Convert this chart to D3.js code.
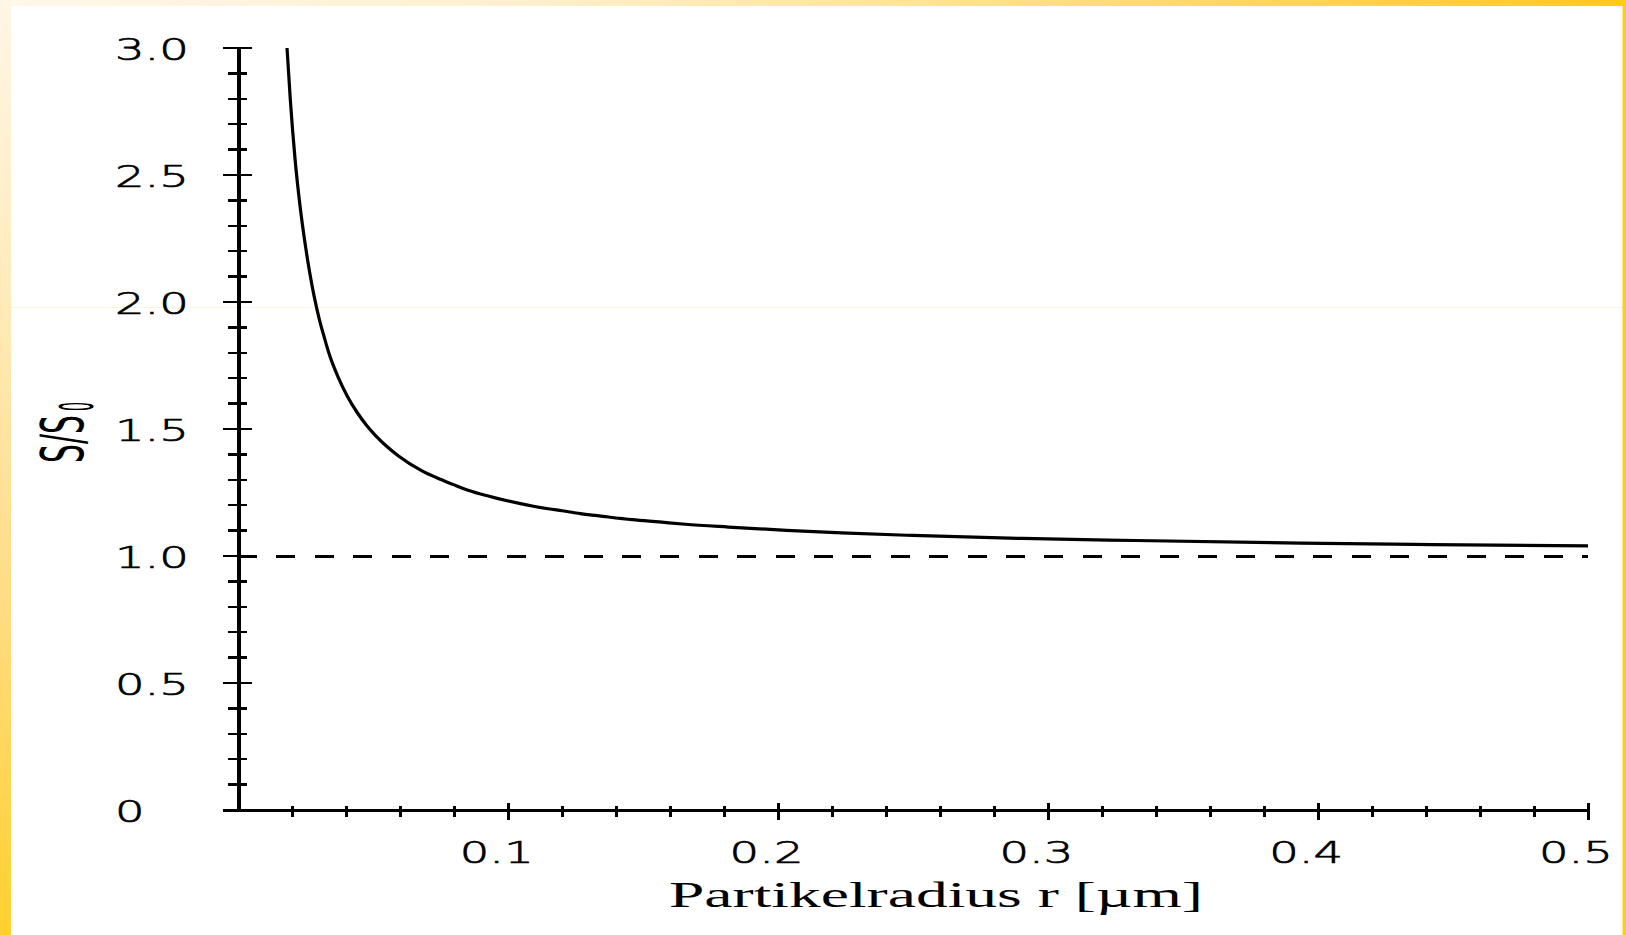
<!DOCTYPE html>
<html>
<head>
<meta charset="utf-8">
<script src="https://cdn.jsdelivr.net/npm/d3@7"></script>
<style>
html,body{margin:0;padding:0;background:#fff;overflow:hidden}
svg{display:block}
</style>
</head>
<body>
<svg id="chart" width="1626" height="935"></svg>
<script>
// ---- data ----
const radius = [0.0178,0.0190,0.0208,0.0226,0.0245,0.0263,0.0278,0.0297,0.0315,0.0334,0.0367,0.0401,0.0438,0.0471,0.0508,0.0545,0.0590,0.0675,0.0746,0.0797,0.0849,0.0924,0.0957,0.1039,0.1091,0.1146,0.1198,0.1265,0.1350,0.1458,0.1558,0.1654,0.1814,0.2029,0.2233,0.2496,0.2904,0.3323,0.3935,0.4421,0.5000];
const ratio  = [3.000,2.800,2.560,2.380,2.230,2.110,2.025,1.935,1.865,1.796,1.705,1.630,1.565,1.517,1.472,1.434,1.395,1.337,1.302,1.280,1.259,1.236,1.227,1.207,1.196,1.186,1.178,1.167,1.156,1.143,1.134,1.125,1.114,1.101,1.091,1.081,1.069,1.061,1.051,1.045,1.040];
const referenceLevel = [1.0];
const xTicks = [0.1,0.2,0.3,0.4,0.5];
const xTickLabels = ["0.1","0.2","0.3","0.4","0.5"];
const yTicks = [0,0.5,1.0,1.5,2.0,2.5,3.0];
const yTickLabels = ["0","0.5","1.0","1.5","2.0","2.5","3.0"];
const xTitle = "Partikelradius r [µm]";
const yTitleMain = "S/S";
const yTitleSub = "0";

// ---- layout ----
const svg = d3.select("#chart");
const W = 1626, H = 935;
const x = d3.scaleLinear().domain([0,0.5]).range([239,1588]);
const y = d3.scaleLinear().domain([0,3]).range([810,48]);

// background & slide frame
const defs = svg.append("defs");
const gTop = defs.append("linearGradient").attr("id","gTop").attr("x1","0").attr("x2","1").attr("y1","0").attr("y2","0");
[[0,"#FFF7EA"],[0.3,"#FFF0D2"],[0.55,"#FFE49C"],[0.74,"#FFD866"],[1,"#FFCA1A"]].forEach(s=>gTop.append("stop").attr("offset",s[0]).attr("stop-color",s[1]));
const gLeft = defs.append("linearGradient").attr("id","gLeft").attr("x1","0").attr("x2","0").attr("y1","0").attr("y2","1");
[[0,"#FFF6E6"],[0.33,"#FFEAB8"],[0.65,"#FFDC82"],[1,"#FFD02C"]].forEach(s=>gLeft.append("stop").attr("offset",s[0]).attr("stop-color",s[1]));

svg.append("rect").attr("width",W).attr("height",H).attr("fill","#FFFFFF");
svg.append("line").attr("x1",11).attr("x2",W).attr("y1",307.5).attr("y2",307.5)
  .attr("stroke","#FFF3DA").attr("stroke-width",1);

const plot = svg.append("g").attr("shape-rendering","crispEdges");

// y axis
plot.append("line").attr("x1",239).attr("x2",239).attr("y1",y(3)-1.5).attr("y2",y(0)+1.5)
  .attr("stroke","#000").attr("stroke-width",4);
const yMinor = d3.range(0,30).map(i=>i/10).filter(v=>Math.abs(v*2-Math.round(v*2))>1e-6);
plot.selectAll(".ymin").data(yMinor).join("line")
  .attr("x1",228).attr("x2",247).attr("y1",d=>y(d)).attr("y2",d=>y(d))
  .attr("stroke","#000").attr("stroke-width",2.5);
plot.selectAll(".ymaj").data(yTicks.filter(v=>v>0)).join("line")
  .attr("x1",223).attr("x2",252).attr("y1",d=>y(d)).attr("y2",d=>y(d))
  .attr("stroke","#000").attr("stroke-width",2.5);

// x axis
plot.append("line").attr("x1",223).attr("x2",x(0.5)+1.5).attr("y1",y(0)+0.5).attr("y2",y(0)+0.5)
  .attr("stroke","#000").attr("stroke-width",3);
const xMinor = d3.range(1,25).map(i=>i*0.02).filter(v=>Math.abs(v*10-Math.round(v*10))>1e-6);
plot.selectAll(".xmin").data(xMinor).join("line")
  .attr("x1",d=>x(d)).attr("x2",d=>x(d)).attr("y1",806).attr("y2",817)
  .attr("stroke","#000").attr("stroke-width",3);
plot.selectAll(".xmaj").data(xTicks).join("line")
  .attr("x1",d=>x(d)).attr("x2",d=>x(d)).attr("y1",803).attr("y2",820)
  .attr("stroke","#000").attr("stroke-width",3);

// dashed reference line S/S0 = 1
plot.selectAll(".ref").data(referenceLevel).join("line")
  .attr("x1",238).attr("x2",x(0.5)).attr("y1",d=>y(d)).attr("y2",d=>y(d))
  .attr("stroke","#000").attr("stroke-width",3).attr("stroke-dasharray","19,19.4");

// curve
const pts = radius.map((r,i)=>[r,ratio[i]]);
svg.append("path").datum(pts)
  .attr("d",d3.line().x(d=>x(d[0])).y(d=>y(d[1])).curve(d3.curveMonotoneX))
  .attr("fill","none").attr("stroke","#000").attr("stroke-width",3.2);

// tick labels (wide, thin digits)
const labelFont = "'DejaVu Sans', sans-serif";
const SX = 1.5;
const yl = svg.selectAll(".ylab").data(yTicks).join("text")
  .attr("x",0).attr("y",0)
  .attr("transform",d=>`translate(115,${y(d)+12}) scale(${SX},1)`)
  .attr("font-family",labelFont).attr("font-weight",200).attr("font-size",31)
  .attr("fill","#000").attr("stroke","#000").attr("stroke-width",0.7)
  .text((d,i)=>yTickLabels[i]);
const xl = svg.selectAll(".xlab").data(xTicks).join("text")
  .attr("x",0).attr("y",0)
  .attr("transform",d=>`translate(${x(d)-49},863) scale(${SX},1)`)
  .attr("font-family",labelFont).attr("font-weight",200).attr("font-size",31)
  .attr("fill","#000").attr("stroke","#000").attr("stroke-width",0.7)
  .text((d,i)=>xTickLabels[i]);

// axis titles
svg.append("text").attr("x",669).attr("y",907)
  .attr("font-family","'Liberation Serif', 'Times New Roman', serif").attr("font-size",35)
  .attr("textLength",534).attr("lengthAdjust","spacingAndGlyphs").attr("fill","#000")
  .text(xTitle);

const yt = svg.append("g").attr("transform","translate(83,463) rotate(-90)");
yt.append("text").attr("x",0).attr("y",0)
  .attr("font-family",labelFont).attr("font-size",58)
  .attr("textLength",48).attr("lengthAdjust","spacingAndGlyphs").attr("fill","#000")
  .text(yTitleMain);
yt.append("text").attr("x",52).attr("y",10)
  .attr("font-family",labelFont).attr("font-size",46)
  .attr("textLength",9).attr("lengthAdjust","spacingAndGlyphs").attr("fill","#000")
  .text(yTitleSub);

// frame strips on top
svg.append("rect").attr("x",0).attr("y",0).attr("width",W).attr("height",6).attr("fill","url(#gTop)");
svg.append("rect").attr("x",0).attr("y",0).attr("width",11).attr("height",H).attr("fill","url(#gLeft)");
svg.append("rect").attr("x",1622.5).attr("y",0).attr("width",3.5).attr("height",H).attr("fill","#FFCB1F");
</script>
</body>
</html>
